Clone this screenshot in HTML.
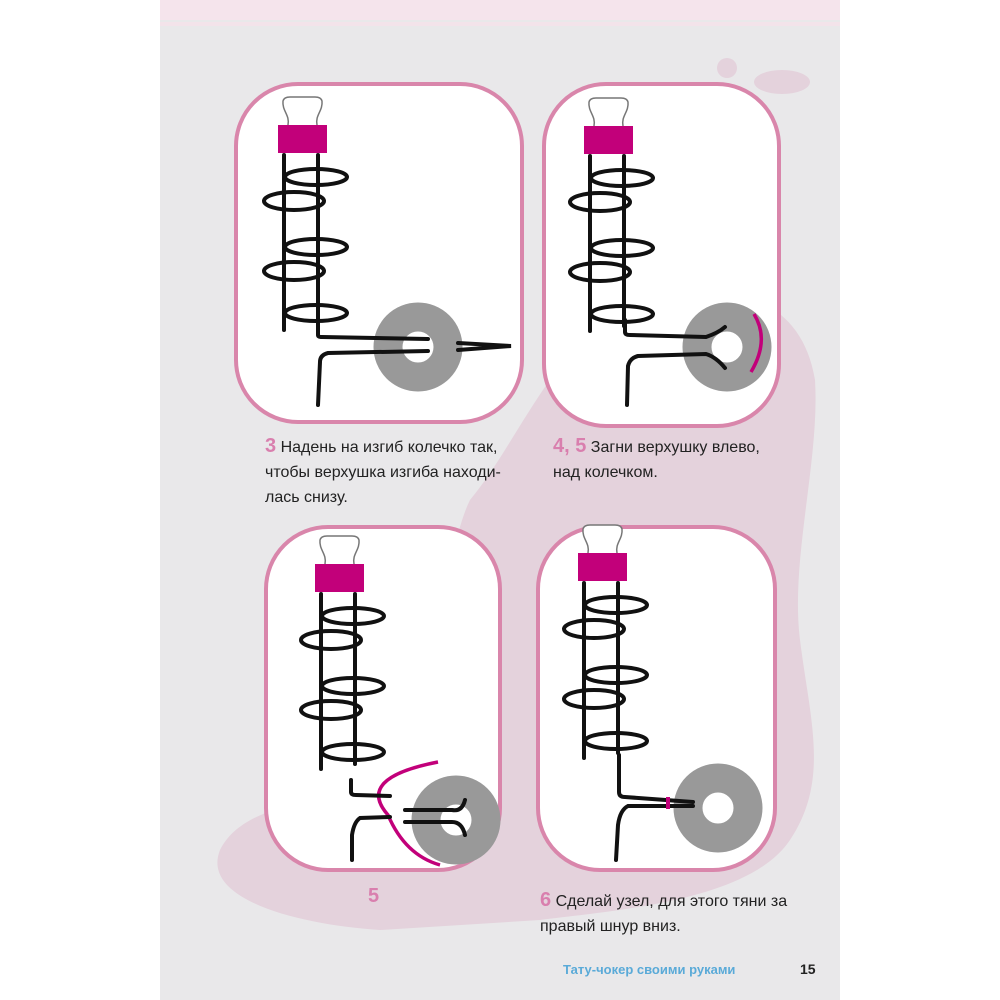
<!DOCTYPE html>
<html><head><meta charset="utf-8"><style>
body{margin:0;width:1000px;height:1000px;background:#fff;overflow:hidden;font-family:"Liberation Sans",sans-serif}
.t{position:absolute;font-size:16px;color:#222;line-height:25px}
.n{color:#d97fae;font-weight:bold;font-size:20px}
</style></head><body>
<svg width="1000" height="1000" style="position:absolute;left:0;top:0">
<defs>
<g id="sp" fill="none" stroke="#111" stroke-width="4" stroke-linecap="round">
<path d="M10,0 C12,-10 4,-14 5,-24 Q6,-28 12,-28 L37,-28 Q43,-28 44,-24 C45,-14 37,-10 39,0" stroke="#777" stroke-width="1.5" fill="#fff"/>
<rect x="0" y="0" width="49" height="28" fill="#c2007a" stroke="none"/>
<line x1="6" y1="30" x2="6" y2="205"/>
<line x1="40" y1="30" x2="40" y2="200"/>
<ellipse cx="38" cy="52" rx="31" ry="8"/>
<ellipse cx="38" cy="122" rx="31" ry="8"/>
<ellipse cx="38" cy="188" rx="31" ry="8"/>
<ellipse cx="16" cy="76" rx="30" ry="9"/>
<ellipse cx="16" cy="146" rx="30" ry="9"/>
</g>
</defs>
<rect x="160" y="0" width="680" height="1000" fill="#e9e8ea"/>
<rect x="160" y="0" width="680" height="20" fill="#f5e4ec"/>
<rect x="160" y="22" width="680" height="4" fill="#f3e3ea"/>
<path d="M470,500 C520,440 560,330 640,300 C720,280 800,290 815,380 C820,460 790,560 800,640 C810,720 830,780 790,840 C750,900 620,910 540,920 L380,930 C300,925 200,900 220,850 C240,810 300,800 380,790 C430,760 440,560 470,500Z" fill="#e4d2dc"/>
<ellipse cx="727" cy="68" rx="10" ry="10" fill="#e4d2dc"/>
<ellipse cx="782" cy="82" rx="28" ry="12" fill="#e4d2dc"/>
<g fill="#fff" stroke="#d986ab" stroke-width="4">
<rect x="236" y="84" width="286" height="338" rx="62"/>
<rect x="544" y="84" width="235" height="342" rx="62"/>
<rect x="266" y="527" width="234" height="343" rx="62"/>
<rect x="538" y="527" width="237" height="343" rx="62"/>
</g>
<use href="#sp" x="278" y="125"/>
<circle cx="418" cy="347" r="30" fill="none" stroke="#999" stroke-width="29"/>
<g fill="none" stroke="#111" stroke-width="4" stroke-linecap="round">
<path d="M318,320 L318,335 Q318,337 322,337 L428,339"/>
<path d="M428,351 L328,353 Q320,355 320,362 L318,405"/>
<path d="M458,343 L511,346 L458,350"/>
</g>
<use href="#sp" x="584" y="126"/>
<circle cx="727" cy="347" r="30" fill="none" stroke="#999" stroke-width="29"/>
<g fill="none" stroke="#111" stroke-width="4" stroke-linecap="round">
<path d="M625,320 L625,332 Q625,335 630,335 L706,337 Q718,333 725,327"/>
<path d="M725,368 Q716,357 706,354 L638,356 Q630,358 628,366 L627,405"/>
</g>
<path d="M754,314 Q770,340 751,372" fill="none" stroke="#c2007a" stroke-width="3.5"/>
<use href="#sp" x="315" y="564"/>
<circle cx="456" cy="820" r="30" fill="none" stroke="#999" stroke-width="29"/>
<path d="M438,762 Q355,778 388,815 Q405,855 440,865" fill="none" stroke="#c2007a" stroke-width="3.5"/>
<g fill="none" stroke="#111" stroke-width="4" stroke-linecap="round">
<path d="M351,780 L351,792 Q351,795 356,795 L390,796"/>
<path d="M405,810 L452,810 Q462,812 465,800"/>
<path d="M405,822 L452,822 Q462,822 465,835"/>
<path d="M390,817 L360,818 Q354,822 352,835 L352,860"/>
</g>
<use href="#sp" x="578" y="553"/>
<circle cx="718" cy="808" r="30" fill="none" stroke="#999" stroke-width="29"/>
<g fill="none" stroke="#111" stroke-width="4" stroke-linecap="round">
<path d="M619,755 L619,792 Q619,797 625,797 L693,802"/>
<path d="M693,806 L628,806 Q620,810 618,825 L616,860"/>
</g>
<rect x="666" y="797" width="4" height="12" fill="#c2007a"/>
</svg>
<div class="t" style="left:265px;top:434px"><span class="n">3</span> Надень на изгиб колечко так,<br>чтобы верхушка изгиба находи-<br>лась снизу.</div>
<div class="t" style="left:553px;top:434px"><span class="n">4, 5</span> Загни верхушку влево,<br>над колечком.</div>
<div class="t" style="left:368px;top:884px"><span class="n">5</span></div>
<div class="t" style="left:540px;top:888px"><span class="n">6</span> Сделай узел, для этого тяни за<br>правый шнур вниз.</div>
<div style="position:absolute;left:563px;top:962px;font-size:13px;font-weight:bold;color:#5aaad8">Тату-чокер своими руками</div>
<div style="position:absolute;left:800px;top:961px;font-size:14px;font-weight:bold;color:#222">15</div>
</body></html>
